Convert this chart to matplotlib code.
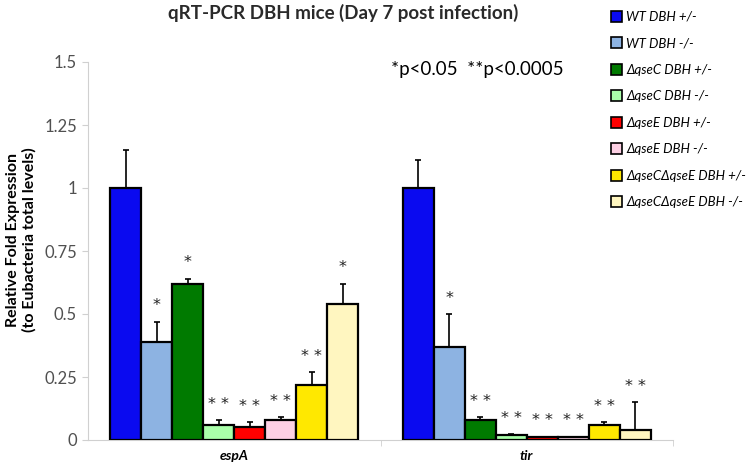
import matplotlib
matplotlib.use("Agg")
import matplotlib.pyplot as plt
from matplotlib.patches import Patch
import numpy as np

plt.rcParams['font.family'] = ['Lato', 'DejaVu Sans']

genes = ["espA", "tir"]
strains = ["WT DBH +/-", "WT DBH -/-", "ΔqseC DBH +/-", "ΔqseC DBH -/-",
           "ΔqseE DBH +/-", "ΔqseE DBH -/-", "ΔqseCΔqseE DBH +/-", "ΔqseCΔqseE DBH -/-"]
colors = ["#0A0AF0", "#8DB3E2", "#007A00", "#AAFFAA", "#FF0000", "#FDD0E4", "#FFE800", "#FFF6C0"]

espA_vals = [1.0, 0.39, 0.62, 0.06, 0.05, 0.08, 0.22, 0.54]
espA_err = [0.15, 0.08, 0.02, 0.02, 0.02, 0.01, 0.05, 0.08]
tir_vals = [1.0, 0.37, 0.08, 0.02, 0.01, 0.01, 0.06, 0.04]
tir_err = [0.11, 0.13, 0.01, 0.004, 0.003, 0.003, 0.01, 0.11]
espA_sig = ["", "*", "*", "**", "**", "**", "**", "*"]
tir_sig = ["", "*", "**", "**", "**", "**", "**", "**"]

vals = [espA_vals, tir_vals]
errs = [espA_err, tir_err]
sigs = [espA_sig, tir_sig]

fig = plt.figure(figsize=(7.5, 4.63), dpi=100)
ax = fig.add_axes([88/750, 1-440/463, (673-88)/750, (440-62)/463])

n = len(strains)
bw = 0.106
offs = (np.arange(n) - (n-1)/2) * bw
for g in range(len(genes)):
    xs = g + 0.5 + offs
    ax.bar(xs, vals[g], width=bw, color=colors, edgecolor="black", linewidth=1.6, zorder=3)
    ax.errorbar(xs, vals[g], yerr=[np.zeros(n), errs[g]], fmt="none", ecolor="black",
                elinewidth=1.2, capsize=2.5, capthick=1.2, zorder=2)
    for i in range(n):
        if sigs[g][i]:
            top = vals[g][i] + errs[g][i]
            ax.annotate(" ".join(sigs[g][i]) if len(sigs[g][i]) > 1 else sigs[g][i],
                        (xs[i], top), xytext=(0, 6), textcoords="offset points",
                        ha="center", va="bottom", fontsize=11.5, family="DejaVu Sans",
                        color="#222222")

ax.set_xlim(0, 2)
ax.set_ylim(0, 1.5)
ax.set_yticks([0, 0.25, 0.5, 0.75, 1, 1.25, 1.5])
ax.set_yticklabels(["0", "0.25", "0.5", "0.75", "1", "1.25", "1.5"], fontsize=12, color="#505050")
ax.set_xticks([0.5, 1.5])
ax.set_xticklabels(genes, fontsize=10, fontweight="bold", style="italic")
ax.tick_params(axis="x", length=0, pad=7)
ax.set_xticks([1, 2], minor=True)
ax.tick_params(axis="x", which="minor", length=4, color="#D0D0D0")
ax.tick_params(axis="y", length=4, color="#D0D0D0", pad=4)
for s in ["top", "right"]:
    ax.spines[s].set_visible(False)
for s in ["left", "bottom"]:
    ax.spines[s].set_color("#D0D0D0")

fig.text(21/750, 1-240/463, "Relative Fold Expression\n(to Eubacteria total levels)",
         rotation=90, ha="center", va="center", fontsize=11.5, fontweight="bold",
         linespacing=1.15)
fig.text(343/750, 1-13/463, "qRT-PCR DBH mice (Day 7 post infection)", ha="center",
         va="center", fontsize=13.5, fontweight="bold", color="#2a2a2a")
fig.text(477/750, 1-70/463, "*p<0.05  **p<0.0005", ha="center", va="center", fontsize=13.5)

handles = [Patch(facecolor=c, edgecolor="black", linewidth=1.2) for c in colors]
fig.legend(handles, strains, loc="upper left", bbox_to_anchor=(604/750, 1-4/463),
           frameon=False, borderpad=0, labelspacing=1.1, handlelength=0.9,
           handleheight=0.9, handletextpad=0.3,
           prop={"size": 9.5, "style": "italic", "family": ["Lato", "DejaVu Sans"]})

fig.savefig("out.png", dpi=100)
